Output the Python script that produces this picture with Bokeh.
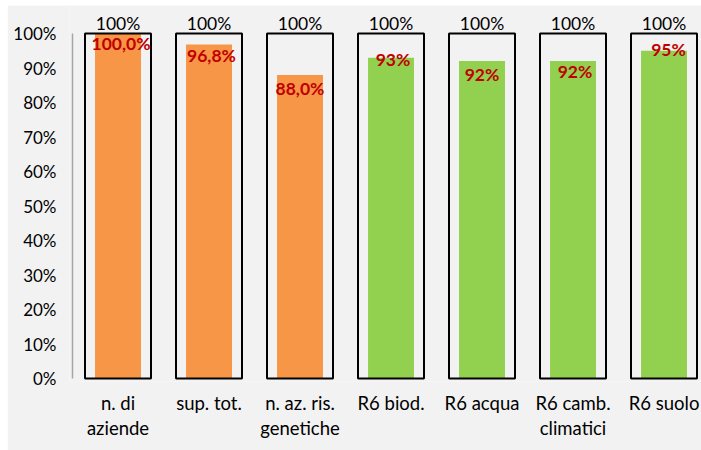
from bokeh.plotting import figure
from bokeh.models import Range1d, FixedTicker, ColumnDataSource
from bokeh.core.properties import value
from bokeh.embed import file_html
from bokeh.resources import INLINE

# ---- data ----
categories = ["n. di\naziende", "sup. tot.", "n. az. ris.\ngenetiche",
              "R6 biod.", "R6 acqua", "R6 camb.\nclimatici", "R6 suolo"]
values = [100.0, 96.8, 88.0, 93, 92, 92, 95]
value_labels = ["100,0%", "96,8%", "88,0%", "93%", "92%", "92%", "95%"]
totals = [100, 100, 100, 100, 100, 100, 100]
total_labels = ["100%", "100%", "100%", "100%", "100%", "100%", "100%"]
groups = ["base", "base", "base", "r6", "r6", "r6", "r6"]
yticks = [0, 10, 20, 30, 40, 50, 60, 70, 80, 90, 100]
ytick_labels = ["0%", "10%", "20%", "30%", "40%", "50%", "60%", "70%", "80%", "90%", "100%"]

# ---- style ----
BG = "#f2f2f2"
group_colors = {"base": "#f79646", "r6": "#92d050"}
RED = "#c00000"
FONT = "Lato"
label_dx = [3, 2.5, 0, 2, 0, 2, 4.5]
label_dy = [10, 11, 14, 2, 13, 10, -1]

xs = list(range(len(categories)))
src = ColumnDataSource(dict(
    x=xs, v=values, vl=value_labels, t=totals, tl=total_labels,
    color=[group_colors[g] for g in groups], dx=label_dx, dy=label_dy,
))

p = figure(width=694, height=445, output_backend="svg", toolbar_location=None,
           x_range=Range1d(-0.533, 6.412), y_range=Range1d(-0.87, 108.12),
           min_border_left=62, min_border_right=0, min_border_top=0,
           min_border_bottom=69)
p.styles = {"margin-left": "7px", "margin-top": "5px"}
p.background_fill_color = BG
p.border_fill_color = BG
p.outline_line_color = None
p.grid.visible = False

p.vbar(x="x", top="v", bottom=0, width=0.505, fill_color="color",
       line_color=None, source=src)
p.vbar(x="x", top="t", bottom=0, width=0.725, fill_alpha=0,
       line_color="black", line_width=2, source=src)

# y axis line (from 0% to 100%)
p.segment(x0=[-0.5], y0=[yticks[0]], x1=[-0.5], y1=[yticks[-1]],
          line_color="#a6a6a6", line_width=1.5)

p.text(x="x", y="v", text="vl", x_offset="dx", y_offset="dy", source=src,
       text_color=RED, text_font=value(FONT), text_font_style="bold",
       text_font_size="17.5px", text_align="center", text_baseline="middle")
p.text(x="x", y="t", text="tl", y_offset=-10.5, source=src,
       text_color="black", text_font=value(FONT),
       text_font_size="17.5px", text_align="center", text_baseline="middle")

ya = p.yaxis[0]
ya.ticker = FixedTicker(ticks=yticks)
ya.major_label_overrides = {t: l for t, l in zip(yticks, ytick_labels)}
ya.axis_line_color = None
ya.major_tick_line_color = None
ya.minor_tick_line_color = None
ya.major_tick_out = 0
ya.major_tick_in = 0
ya.minor_tick_out = 0
ya.minor_tick_in = 0
ya.major_label_standoff = 13
ya.major_label_text_font = FONT
ya.major_label_text_font_size = "17px"
ya.major_label_text_color = "black"

xa = p.xaxis[0]
xa.ticker = FixedTicker(ticks=xs)
xa.major_label_overrides = {x: c for x, c in zip(xs, categories)}
xa.axis_line_color = None
xa.major_tick_line_color = None
xa.minor_tick_line_color = None
xa.major_tick_out = 0
xa.major_tick_in = 0
xa.minor_tick_out = 0
xa.minor_tick_in = 0
xa.major_label_standoff = 10
xa.major_label_text_font = FONT
xa.major_label_text_font_size = "18.5px"
xa.major_label_text_line_height = 1.15
xa.major_label_text_color = "black"

open("out.html", "w").write(file_html(p, INLINE))
